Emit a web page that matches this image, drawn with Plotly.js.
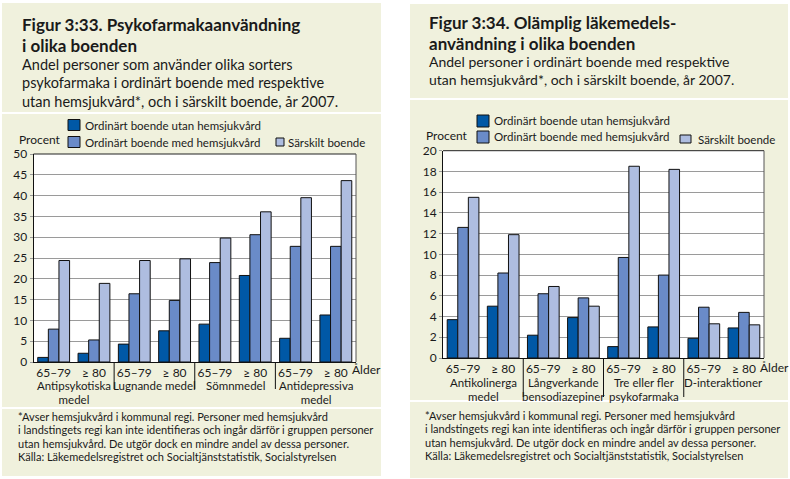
<!DOCTYPE html>
<html>
<head>
<meta charset="utf-8">
<script src="https://cdn.plot.ly/plotly-3.0.1.min.js"></script>
<style>html,body{margin:0;padding:0;background:#fff;}#chart{width:790px;height:479px;}</style>
</head>
<body>
<div id="chart"></div>
<script>
// ---------- DATA ----------
const ages = ["65–79", "≥ 80"];
const seriesNames = ["Ordinärt boende utan hemsjukvård", "Ordinärt boende med hemsjukvård", "Särskilt boende"];

// Figure 3:33
const categories1 = [["Antipsykotiska", "medel"], ["Lugnande medel"], ["Sömnmedel"], ["Antidepressiva", "medel"]];
const utan1     = [1.1, 2.1, 4.3, 7.5, 9.1, 20.8, 5.7, 11.3];
const med1      = [7.9, 5.3, 16.4, 14.8, 23.9, 30.6, 27.8, 27.8];
const sarskilt1 = [24.4, 18.9, 24.4, 24.8, 29.8, 36.1, 39.5, 43.6];

// Figure 3:34
const categories2 = [["Antikolinerga", "medel"], ["Långverkande", "bensodiazepiner"], ["Tre eller fler", "psykofarmaka"], ["D-interaktioner"]];
const utan2     = [3.7, 5.0, 2.2, 3.9, 1.1, 3.0, 1.9, 2.9];
const med2      = [12.6, 8.2, 6.2, 5.8, 9.7, 8.0, 4.9, 4.4];
const sarskilt2 = [15.5, 11.9, 6.9, 5.0, 18.5, 18.2, 3.3, 3.2];

const title1 = ["Figur 3:33. Psykofarmakaanvändning", "i olika boenden"];
const subtitle1 = ["Andel personer som använder olika sorters", "psykofarmaka i ordinärt boende med respektive", "utan hemsjukvård*, och i särskilt boende, år 2007."];
const title2 = ["Figur 3:34. Olämplig läkemedels-", "användning i olika boenden"];
const subtitle2 = ["Andel personer i ordinärt boende med respektive", "utan hemsjukvård*, och i särskilt boende, år 2007."];
const footnote = ["*Avser hemsjukvård i kommunal regi. Personer med hemsjukvård", "i landstingets regi kan inte identifieras och ingår därför i gruppen personer", "utan hemsjukvård. De utgör dock en mindre andel av dessa personer.", "Källa: Läkemedelsregistret och Socialtjänststatistik, Socialstyrelsen"];
const yLabel = "Procent";
const xLabel = "Ålder";

// ---------- STYLE ----------
const W = 790, H = 479;
const FONT = "Lato, 'Open Sans', sans-serif";
const TXT = "#1a1a1a";
const colors = ["#0058a6", "#6a8bc8", "#aebde0"];
const BEIGE = "#f0f1dd";
const px = x => x / W;
const py = y => 1 - y / H;

// multi-line text block: line spacing = 1.3 * base size, glyphs at glyphSize
function block(lines, glyphSize) {
  return lines.map(l => '<span style="font-size:' + glyphSize + 'px">' + l + '</span>').join("<br>");
}

const xs = [];
categories1.forEach((c, i) => ages.forEach((a, j) => xs.push(i * ages.length + j)));
const tickText = [];
categories1.forEach(() => ages.forEach(a => tickText.push(a)));

function bars(vals, xa, ya) {
  return vals.map((v, k) => ({
    type: "bar", x: xs, y: v, name: seriesNames[k], xaxis: xa, yaxis: ya,
    marker: {color: colors[k], line: {color: "#111", width: 1}},
    hoverinfo: "y", showlegend: false
  }));
}

const data = [].concat(
  bars([utan1, med1, sarskilt1], "x", "y"),
  bars([utan2, med2, sarskilt2], "x2", "y2")
);

// Panel geometry (pixels)
const P = [
  {box: [2, 3, 381, 476], divider: [113, 408], plot: [33.5, 154, 356, 362], sepBottom: 389,
   title: title1, tX: 20, tY: [24.5, 45], sub: subtitle1, subSize: 14.5, sY: [64, 83, 102],
   leg: [[68, 125, 12, 11], [68, 142, 12, 11], [276, 142, 8, 8]], legTextX: [83, 83, 286], procX: 17, procY: 139,
   catTop: 378.2, alderX: 349.5, alderY: 369.5, cats: categories1, foot: [17, 408.5]},
  {box: [410, 4, 788, 478], divider: [99, 401], plot: [443, 150.7, 764, 358], sepBottom: 397,
   title: title2, tX: 427, tY: [23, 43.5], sub: subtitle2, subSize: 14, sY: [62, 79.5],
   leg: [[477, 121, 12, 12], [477, 137, 12, 12], [680, 139, 11, 8]], legTextX: [492, 492, 696], procX: 424, procY: 136,
   catTop: 374.7, alderX: 758, alderY: 367, cats: categories2, foot: [424, 407.5]}
];

const shapes = [];
const annotations = [];

function ann(text, x, y, opt) {
  annotations.push(Object.assign({
    text: text, x: px(x), y: py(y), xref: "paper", yref: "paper",
    showarrow: false, xanchor: "left", yanchor: "middle",
    font: {family: FONT, size: 13, color: TXT}
  }, opt || {}));
}

P.forEach((p, idx) => {
  const [x0, y0, x1, y1] = p.box;
  shapes.push({type: "rect", xref: "paper", yref: "paper", x0: px(x0), x1: px(x1), y0: py(y1), y1: py(y0),
    fillcolor: BEIGE, line: {width: 0}, layer: "below"});
  p.divider.forEach(d => shapes.push({type: "line", xref: "paper", yref: "paper", x0: px(x0), x1: px(x1), y0: py(d), y1: py(d),
    line: {color: "#ffffff", width: 2}, layer: "below"}));
  const [a0, b0, a1, b1] = p.plot;
  shapes.push({type: "rect", xref: "paper", yref: "paper", x0: px(a0), x1: px(a1), y0: py(b1), y1: py(b0),
    fillcolor: "#ffffff", line: {width: 0}, layer: "below"});
  // separators between categories
  const xr = idx === 0 ? "x" : "x2";
  for (let i = 1; i < p.cats.length; i++) {
    const xv = i * ages.length - 0.5;
    shapes.push({type: "line", xref: xr, yref: "paper", x0: xv, x1: xv, y0: py(b1), y1: py(p.sepBottom),
      line: {color: "#111", width: 1}});
  }
  // category labels
  p.cats.forEach((lines, i) => {
    annotations.push({text: block(lines, 11.5), x: i * ages.length + (ages.length - 1) / 2, xref: xr, y: py(p.catTop), yref: "paper",
      showarrow: false, xanchor: "center", yanchor: "top", align: "center", borderpad: 0,
      font: {family: FONT, size: 10.8, color: TXT}});
  });
  // Ålder
  ann(xLabel, p.alderX, p.alderY, {font: {family: FONT, size: 12, color: TXT}});
  // titles
  p.title.forEach((t, k) => ann("<b>" + t + "</b>", p.tX, p.tY[k], {font: {family: FONT, size: 17, color: TXT}}));
  p.sub.forEach((t, k) => ann(t, p.tX, p.sY[k], {font: {family: FONT, size: p.subSize, color: TXT}}));
  // legend
  seriesNames.forEach((n, k) => {
    const [lx, ly, sw, sh] = p.leg[k];
    shapes.push({type: "rect", xref: "paper", yref: "paper", x0: px(lx), x1: px(lx + sw), y0: py(ly + sh / 2), y1: py(ly - sh / 2),
      fillcolor: colors[k], line: {color: "#111", width: 1}});
    ann(n, p.legTextX[k], ly, {font: {family: FONT, size: 11.5, color: TXT}});
  });
  ann(yLabel, p.procX, p.procY, {font: {family: FONT, size: 12, color: TXT}});
  // footnote
  ann(block(footnote, 11), p.foot[0], p.foot[1], {yanchor: "top", align: "left", borderpad: 0,
    font: {family: FONT, size: 10.3, color: TXT}});
});

function xaxis(p) {
  return {domain: [px(p.plot[0]), px(p.plot[2])], range: [-0.5, xs.length - 0.5], tickvals: xs, ticktext: tickText,
    showgrid: false, zeroline: false, showline: true, linecolor: "#111", linewidth: 1, mirror: false,
    ticks: "", tickfont: {family: FONT, size: 12, color: TXT}, fixedrange: true};
}
function yaxis(p, max, dt, xa) {
  return {domain: [py(p.plot[3]), py(p.plot[1])], range: [0, max], dtick: dt, tick0: 0, anchor: xa,
    showgrid: true, gridcolor: "#9a9a9a", gridwidth: 1, zeroline: false, showline: true, linecolor: "#111", linewidth: 1,
    mirror: false, ticks: "outside", ticklen: 3, tickcolor: "#9a9a9a",
    tickfont: {family: FONT, size: 12, color: TXT}, fixedrange: true};
}

// plot borders (top & right)
P.forEach(p => {
  const [a0, b0, a1, b1] = p.plot;
  shapes.push({type: "line", xref: "paper", yref: "paper", x0: px(a0), x1: px(a1), y0: py(b0), y1: py(b0), line: {color: "#222", width: 1}});
  shapes.push({type: "line", xref: "paper", yref: "paper", x0: px(a1), x1: px(a1), y0: py(b0), y1: py(b1), line: {color: "#555", width: 1}});
});

const layout = {
  width: W, height: H, margin: {l: 0, r: 0, t: 0, b: 0},
  paper_bgcolor: "#ffffff", plot_bgcolor: "rgba(0,0,0,0)",
  barmode: "group", bargap: 0.21, bargroupgap: 0,
  showlegend: false,
  xaxis: Object.assign(xaxis(P[0]), {anchor: "y"}),
  yaxis: yaxis(P[0], 50, 5, "x"),
  xaxis2: Object.assign(xaxis(P[1]), {anchor: "y2"}),
  yaxis2: yaxis(P[1], 20, 2, "x2"),
  shapes: shapes, annotations: annotations,
  font: {family: FONT, color: TXT}
};

Plotly.newPlot("chart", data, layout, {displayModeBar: false, staticPlot: true});
</script>
</body>
</html>
